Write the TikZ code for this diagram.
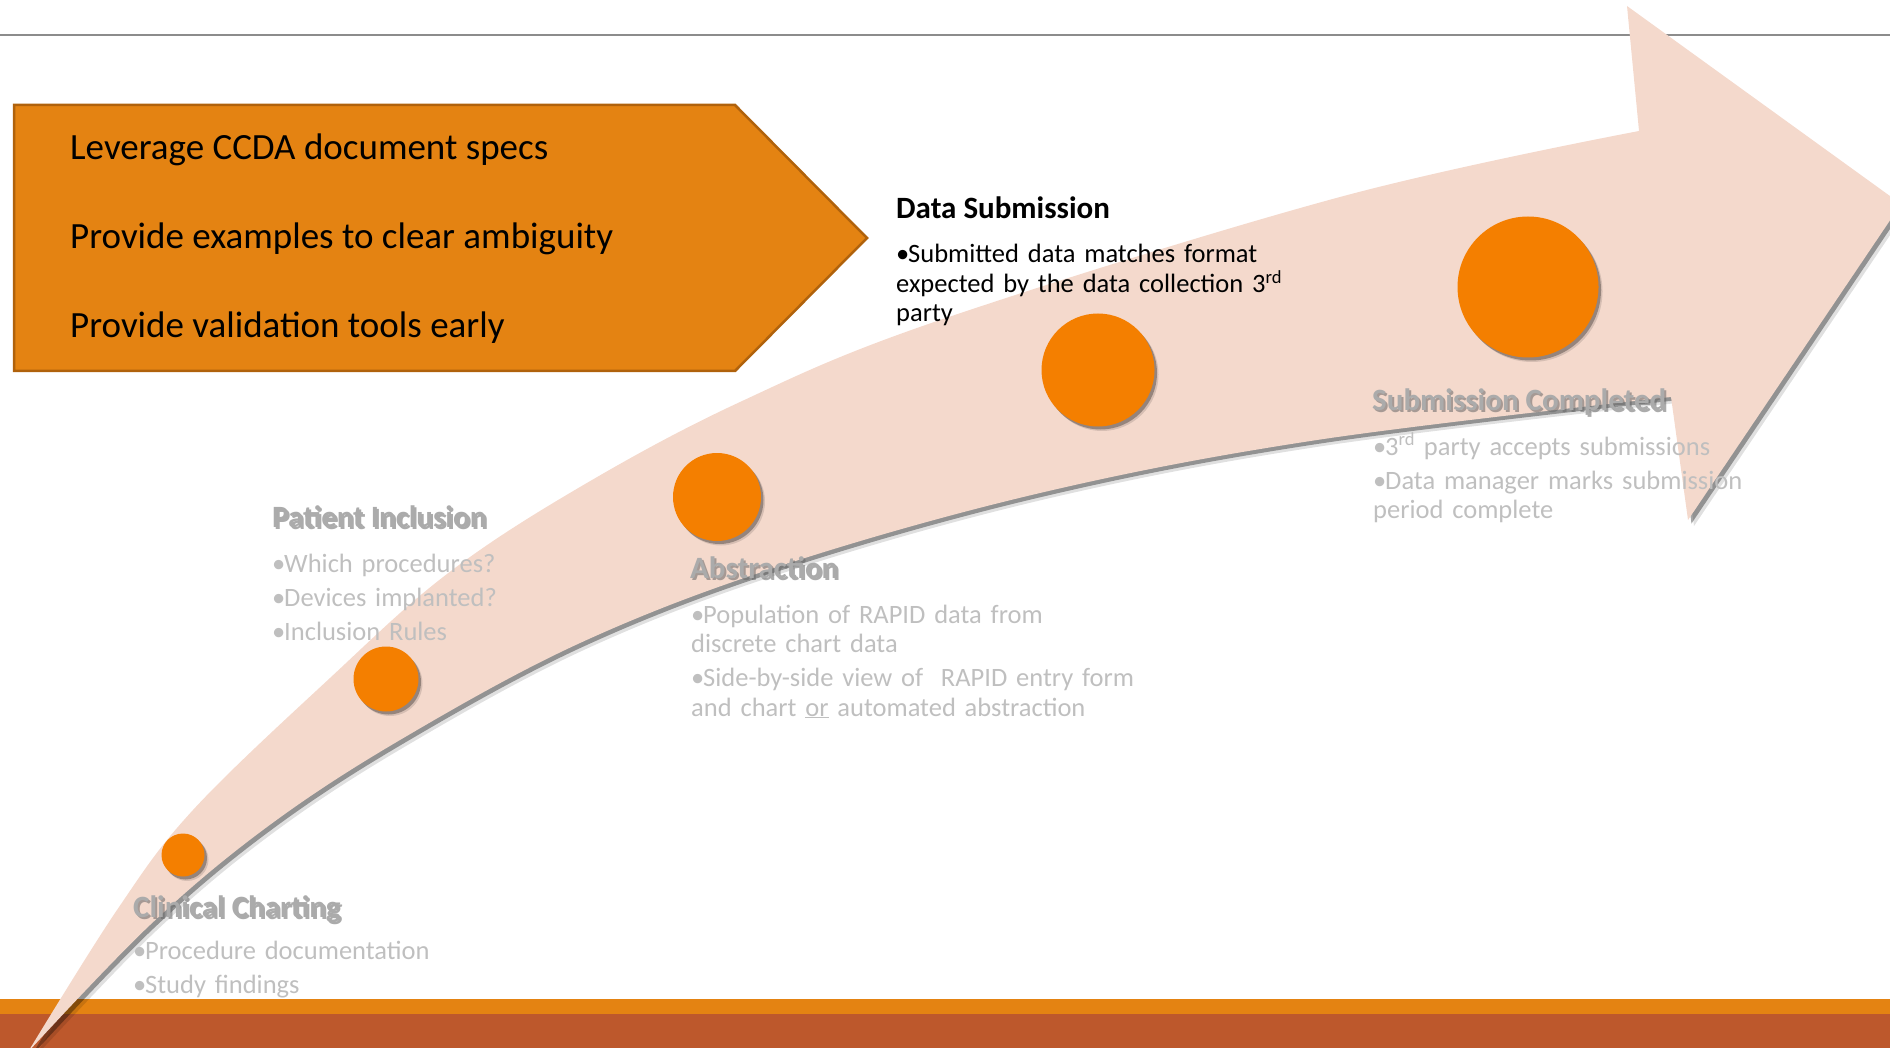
\documentclass[tikz,border=0pt]{standalone}
\usepackage{fontspec}
\setmainfont{Carlito}
\usepackage{tikz}
\usetikzlibrary{shadows}

\definecolor{boxorange}{HTML}{E48312}
\definecolor{boxedge}{HTML}{B0620C}
\definecolor{barred}{HTML}{BD582C}
\definecolor{arrowpink}{HTML}{F4D9CC}
\definecolor{dotorange}{HTML}{F47F00}
\definecolor{headgray}{HTML}{ABABAB}
\definecolor{textgray}{HTML}{BFBFBF}
\definecolor{rulegray}{HTML}{8C8C8C}

\newcommand{\bitem}[1]{\hangindent=12pt\hangafter=1\noindent\makebox[12pt][l]{\textbullet}#1\par}
\newcommand{\arrowpath}{plot[smooth,tension=.6] coordinates {(28,1052) (117,910) (193,810) (330,678) (447,574) (580,487) (740,402) (940,320) (1340,197) (1639,131)} -- (1627,6) -- (1901,204) -- (1688,520) -- (1671,397) -- plot[smooth,tension=.6] coordinates {(1671,397) (1317,440) (1040,493) (780,566) (580,643) (400,740) (267,827) (150,925) (28,1052)} -- cycle}
\newcommand{\stagehead}[4]{\node[headshade] at (#1+2,#2+2.5) {#4};
	\node[headtext] (#3) at (#1,#2) {#4};}

\begin{document}
\begin{tikzpicture}[x=1pt,y=-1pt,
	boxtext/.style={anchor=base west,inner sep=0,font=\fontsize{37}{44}\selectfont},
	headtext/.style={anchor=base west,inner sep=0,font=\fontsize{31}{36}\selectfont\bfseries,text=headgray},
	headshade/.style={headtext,text=black!60,text opacity=.55},
	bullets/.style={anchor=base west,inner sep=0,text width=640pt,align=left,text=textgray,
		font=\fontsize{26.5}{29.5}\selectfont,execute at begin node={\setlength{\parskip}{4.5pt}}},
	stepdot/.style={circle,fill=dotorange,inner sep=0,
		drop shadow={shadow xshift=2.5pt,shadow yshift=-3pt,fill=black,opacity=.3},
		drop shadow={shadow xshift=4pt,shadow yshift=-4.5pt,fill=black,opacity=.12}}]
	\useasboundingbox (0,0) rectangle (1890,1048);
	\clip (0,0) rectangle (1890,1048);
	\draw[rulegray,line width=1.8pt] (0,35) -- (1890,35);
	\fill[boxorange] (0,999) rectangle (1890,1014);
	\fill[barred] (0,1014) rectangle (1890,1048);
	\fill[black,opacity=.12,shift={(6,6)}] \arrowpath;
	\fill[black,opacity=.35,shift={(3.5,3.5)}] \arrowpath;
	\fill[arrowpink] \arrowpath;
	\draw[boxedge,line width=2.5pt,fill=boxorange] (14,105) -- (735,105) -- (867,238) -- (735,371) -- (14,371) -- cycle;
	\node[boxtext] (specs) at (70,160) {Leverage CCDA document specs};
	\node[boxtext] (examples) at (70,249) {Provide examples to clear ambiguity};
	\node[boxtext] (tools) at (70,338) {Provide validation tools early};
	\node[stepdot,minimum size=43pt] (dot1) at (183,855) {};
	\node[stepdot,minimum size=65pt] (dot2) at (386,679) {};
	\node[stepdot,minimum size=88pt] (dot3) at (717,497) {};
	\node[stepdot,minimum size=113pt] (dot4) at (1098,370) {};
	\node[stepdot,minimum size=141pt] (dot5) at (1528,287) {};
	\stagehead{133}{917}{charting}{Clinical Charting}
	\stagehead{272}{527}{inclusion}{Patient Inclusion}
	\stagehead{690}{578}{abstraction}{Abstraction}
	\stagehead{1372}{410}{completed}{Submission Completed}
	\node[headtext,text=black] (submission) at (896,219) {Data Submission};
	\node[bullets] (chartingList) at (133,959) {\bitem{Procedure documentation}\bitem{Study findings}};
	\node[bullets] (inclusionList) at (272,572) {\bitem{Which procedures?}\bitem{Devices implanted?}\bitem{Inclusion Rules}};
	\node[bullets] (abstractionList) at (691,623) {\bitem{Population of RAPID data from\\discrete chart data}\bitem{Side-by-side view of~ RAPID entry form\\and chart \underline{or} automated abstraction}};
	\node[bullets,text=black] (submissionList) at (896,263) {\bitem{Submitted data matches format\\expected by the data collection 3\textsuperscript{rd}\\party}};
	\node[bullets] (completedList) at (1373,455) {\bitem{3\textsuperscript{rd} party accepts submissions}\bitem{Data manager marks submission\\period complete}};
\end{tikzpicture}
\end{document}
